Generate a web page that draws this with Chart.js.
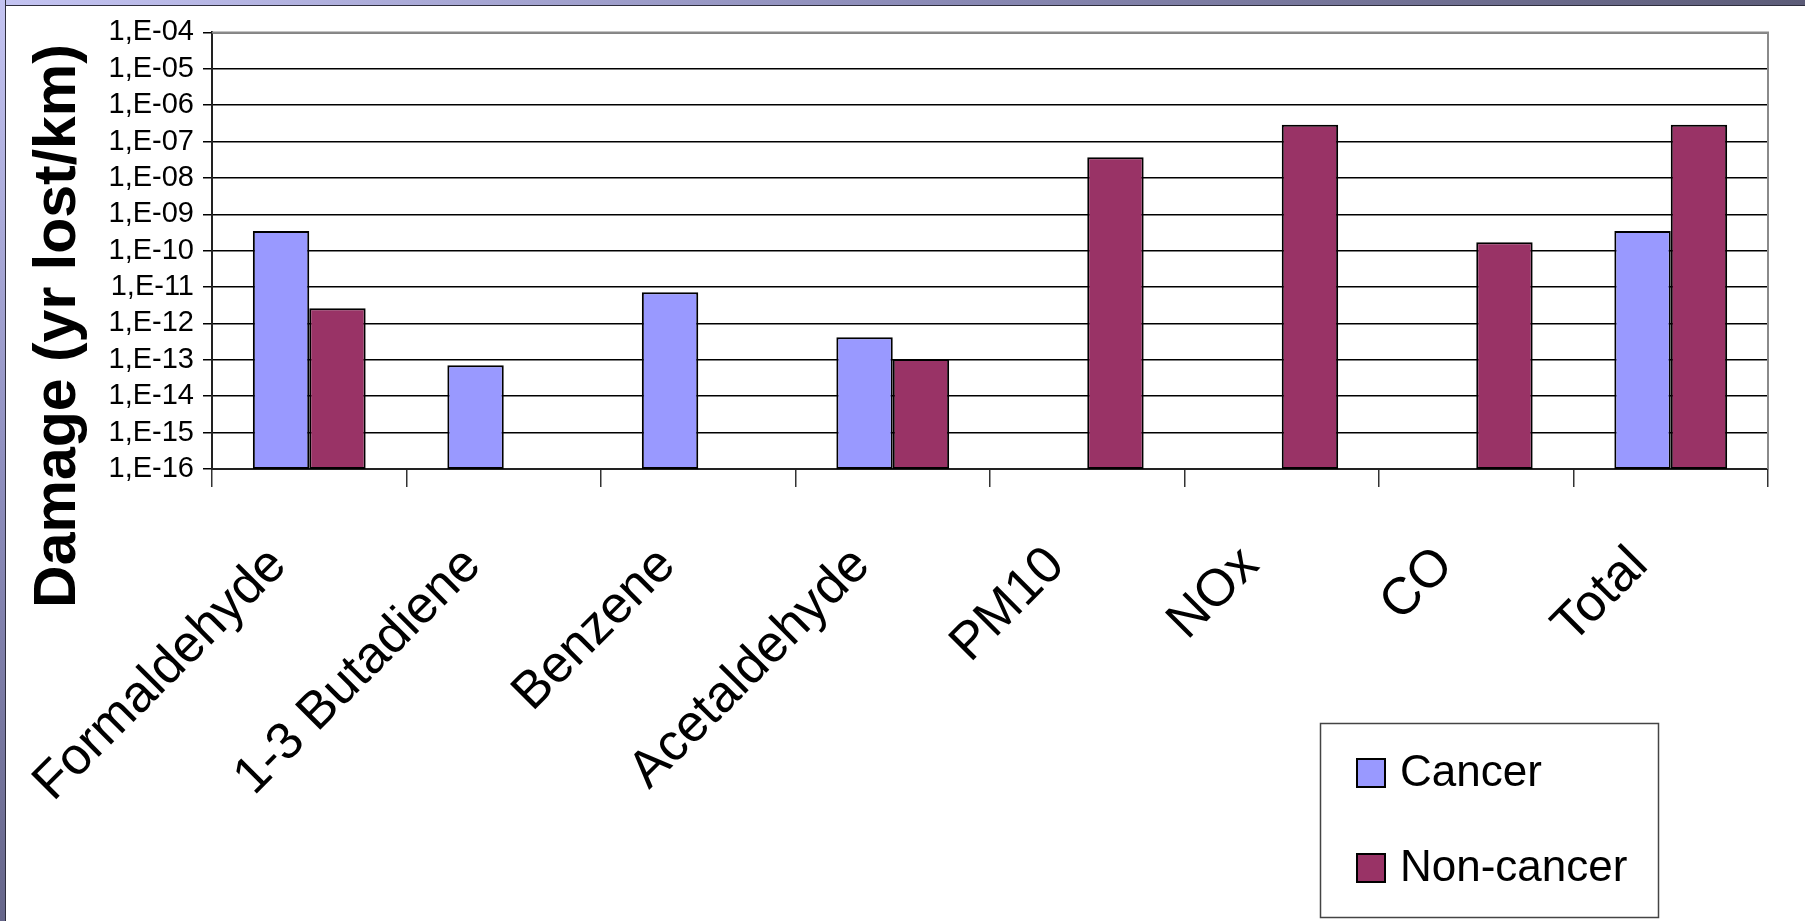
<!DOCTYPE html>
<html>
<head>
<meta charset="utf-8">
<script src="https://cdn.jsdelivr.net/npm/chart.js@4.4.1/dist/chart.umd.min.js"></script>
<style>
  html, body { margin: 0; padding: 0; background: #ffffff; overflow: hidden; }
  body { width: 1805px; height: 921px; position: relative; }
  #topbar { position: absolute; left: 0; top: 0; width: 1805px; height: 5px;
    background: linear-gradient(to right, #c4c4f2, #8c8cb8 50%, #5c5c78); border-bottom: 1px solid #2e2e3e; }
  #leftbar { position: absolute; left: 0; top: 0; width: 5px; height: 921px;
    background: linear-gradient(to bottom, #c4c4f2, #9090c0 50%, #66668a); border-right: 1px solid #2e2e3e; }
  #wrap { position: absolute; left: 6px; top: 6px; width: 1799px; height: 915px; }
  canvas { display: block; }
</style>
</head>
<body>
<div id="topbar"></div>
<div id="leftbar"></div>
<div id="wrap"><canvas id="c" width="1799" height="915"></canvas></div>
<script>
// ---- data ----
const categories = ['Formaldehyde', '1-3 Butadiene', 'Benzene', 'Acetaldehyde', 'PM10', 'NOx', 'CO', 'Total'];
const cancerValues = [3.5e-10, 7.1e-14, 7.2e-12, 4.2e-13, null, null, null, 3.5e-10];
const nonCancerValues = [2.6e-12, null, null, 1.05e-13, 3.7e-8, 2.9e-7, 1.7e-10, 2.9e-7];
const seriesNames = ['Cancer', 'Non-cancer'];
const yTickValues = [1e-16, 1e-15, 1e-14, 1e-13, 1e-12, 1e-11, 1e-10, 1e-9, 1e-8, 1e-7, 1e-6, 1e-5, 1e-4];
const yTickLabels = ['1,E-16', '1,E-15', '1,E-14', '1,E-13', '1,E-12', '1,E-11', '1,E-10', '1,E-09', '1,E-08', '1,E-07', '1,E-06', '1,E-05', '1,E-04'];
const yAxisTitle = 'Damage (yr lost/km)';

const FONT = "'Liberation Sans', Arial, sans-serif";
const colCancer = '#9999ff';
const colNon = '#993366';

const framePlugin = {
  id: 'frame',
  afterDraw(chart) {
    const ctx = chart.ctx;
    const a = chart.chartArea;
    ctx.save();
    // plot area top/right border
    ctx.strokeStyle = '#8a8a8a';
    ctx.lineWidth = 2;
    ctx.beginPath();
    ctx.moveTo(a.left, a.top);
    ctx.lineTo(a.right, a.top);
    ctx.lineTo(a.right, a.bottom);
    ctx.stroke();
    // y-axis title
    ctx.fillStyle = '#000';
    ctx.font = 'bold 59px ' + FONT;
    ctx.textAlign = 'center';
    ctx.textBaseline = 'alphabetic';
    ctx.translate(69, 320);
    ctx.rotate(-Math.PI / 2);
    ctx.fillText(yAxisTitle, 0, 0);
    ctx.restore();

    // legend
    ctx.save();
    const lx = 1314, ly = 717, lw = 338, lh = 194;
    ctx.fillStyle = '#fff';
    ctx.fillRect(lx, ly, lw, lh);
    ctx.strokeStyle = '#444';
    ctx.lineWidth = 1.5;
    ctx.strokeRect(lx + 0.5, ly + 0.5, lw, lh);
    const ds = chart.data.datasets;
    ctx.font = '44px ' + FONT;
    ctx.textAlign = 'left';
    ctx.textBaseline = 'middle';
    ds.forEach((d, i) => {
      const cy = 767 + i * 95;
      ctx.fillStyle = d.backgroundColor;
      ctx.fillRect(1350, cy - 15, 30, 30);
      ctx.strokeStyle = '#000';
      ctx.lineWidth = 2;
      ctx.strokeRect(1351, cy - 14, 28, 28);
      ctx.fillStyle = '#000';
      ctx.fillText(d.label, 1394, cy + 1);
    });
    ctx.restore();
  }
};

new Chart(document.getElementById('c'), {
  type: 'bar',
  data: {
    labels: categories,
    datasets: [
      { label: seriesNames[0], data: cancerValues, backgroundColor: colCancer, borderColor: '#000', borderWidth: 2, borderSkipped: false },
      { label: seriesNames[1], data: nonCancerValues, backgroundColor: colNon, borderColor: '#000', borderWidth: 2, borderSkipped: false }
    ]
  },
  options: {
    responsive: false,
    animation: false,
    devicePixelRatio: 1,
    layout: { padding: { top: 26, right: 37, left: 0, bottom: 0 } },
    datasets: { bar: { categoryPercentage: 0.58, barPercentage: 1.0 } },
    plugins: { legend: { display: false }, tooltip: { enabled: false }, title: { display: false } },
    scales: {
      x: {
        type: 'category',
        offset: true,
        grid: { display: true, drawOnChartArea: false, drawTicks: true, tickLength: 18, color: '#333', offset: true, lineWidth: 1.5 },
        border: { display: true, color: '#222', width: 2 },
        ticks: { color: '#000', font: { family: FONT, size: 52 }, minRotation: 45, maxRotation: 45, autoSkip: false, padding: 48, labelOffset: -31 },
        afterFit(scale) { scale.height = 452; }
      },
      y: {
        type: 'logarithmic',
        min: 1e-16,
        max: 1e-4,
        grid: { color: '#000', lineWidth: 1.5, tickLength: 9, drawTicks: true },
        border: { display: true, color: '#222', width: 2 },
        ticks: {
          color: '#000', font: { family: FONT, size: 29 }, padding: 9, autoSkip: false,
          callback: (v) => { const i = yTickValues.findIndex(t => Math.abs(Math.log10(t) - Math.log10(v)) < 1e-6); return i >= 0 ? yTickLabels[i] : ''; }
        },
        afterBuildTicks(scale) { scale.ticks = yTickValues.map(v => ({ value: v })); },
        afterFit(scale) { scale.width = 206; }
      }
    }
  },
  plugins: [framePlugin]
});
</script>
</body>
</html>
